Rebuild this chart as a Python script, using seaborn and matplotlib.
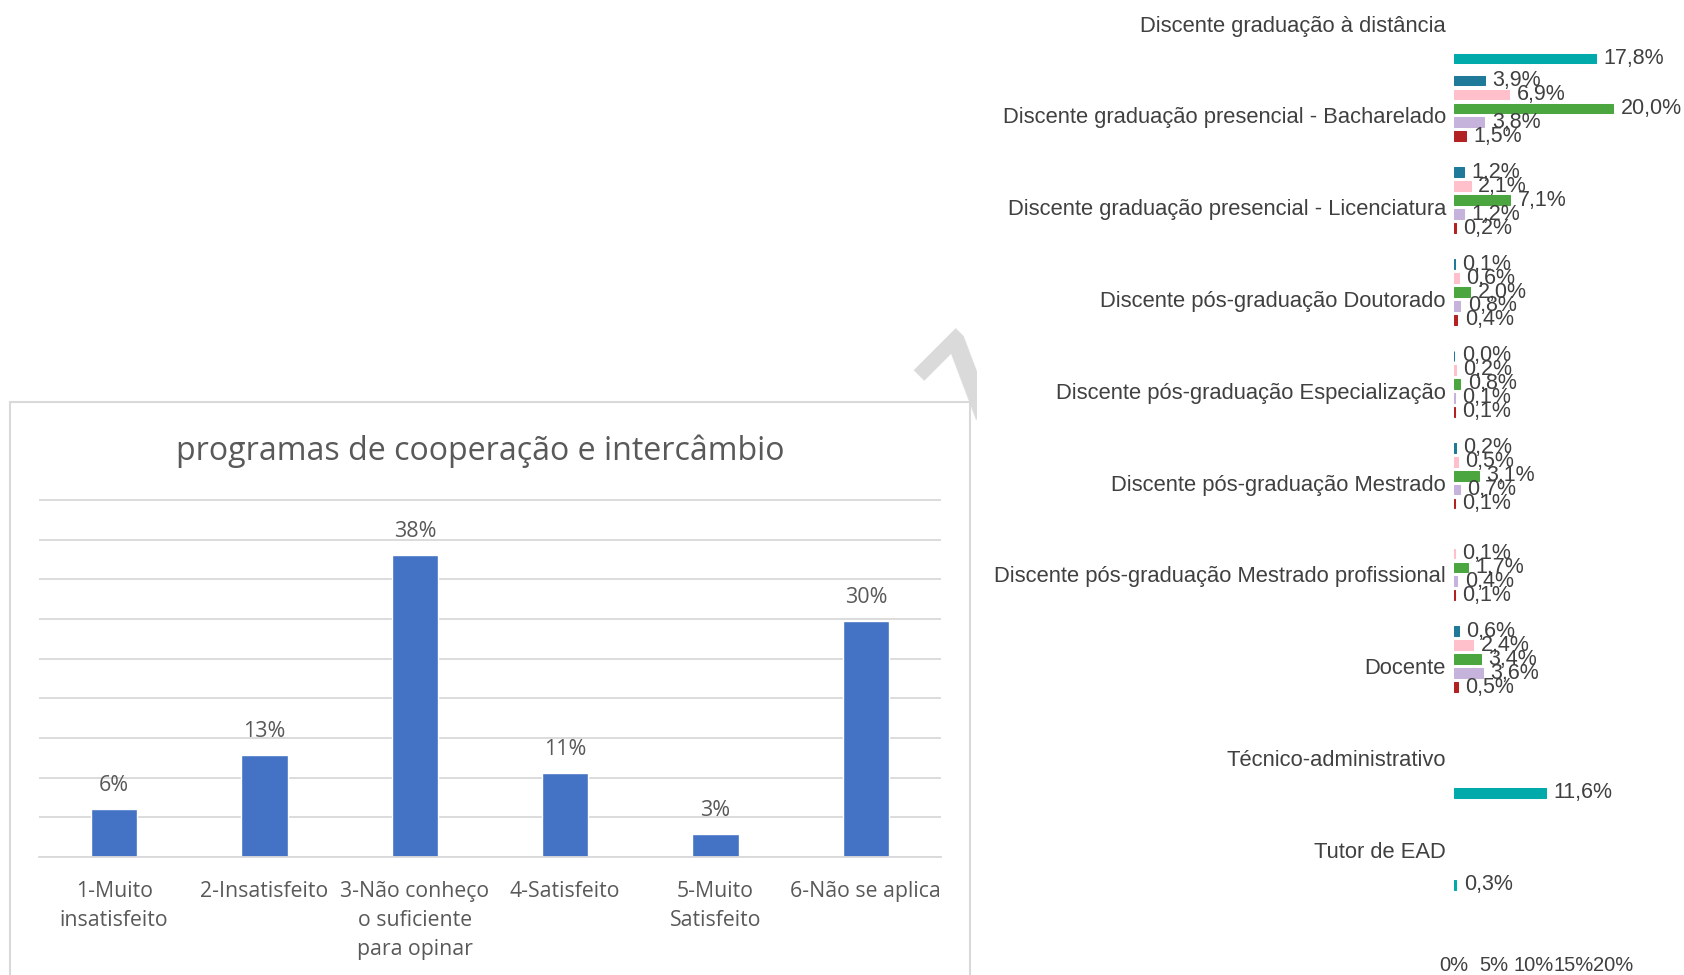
import numpy as np
import pandas as pd
import seaborn as sns
import matplotlib.pyplot as plt
from matplotlib.patches import Rectangle
from matplotlib.transforms import Bbox, TransformedBbox

W, H, DPI = 1684, 975, 100

# gráfico da esquerda - total por resposta
titulo = "programas de cooperação e intercâmbio"
respostas = ["1-Muito insatisfeito", "2-Insatisfeito", "3-Não conheço o suficiente para opinar",
             "4-Satisfeito", "5-Muito Satisfeito", "6-Não se aplica"]
rotulos_x = ["1-Muito\ninsatisfeito", "2-Insatisfeito", "3-Não conheço\no suficiente\npara opinar",
             "4-Satisfeito", "5-Muito\nSatisfeito", "6-Não se aplica"]
total_pct = [6.0, 12.8, 38.1, 10.6, 2.9, 29.7]

# gráfico da direita - resposta por segmento
segmentos = ["Discente graduação à distância",
             "Discente graduação presencial - Bacharelado",
             "Discente graduação presencial - Licenciatura",
             "Discente pós-graduação Doutorado",
             "Discente pós-graduação Especialização",
             "Discente pós-graduação Mestrado",
             "Discente pós-graduação Mestrado profissional",
             "Docente",
             "Técnico-administrativo",
             "Tutor de EAD"]
muito_insatisfeito = [None, 3.9, 1.2, 0.1, 0.0, 0.2, None, 0.6, None, None]
insatisfeito = [None, 6.9, 2.1, 0.6, 0.2, 0.5, 0.1, 2.4, None, None]
nao_conheco = [None, 20.0, 7.1, 2.0, 0.8, 3.1, 1.7, 3.4, None, None]
satisfeito = [None, 3.8, 1.2, 0.8, 0.1, 0.7, 0.4, 3.6, None, None]
muito_satisfeito = [None, 1.5, 0.2, 0.4, 0.1, 0.1, 0.1, 0.5, None, None]
nao_se_aplica = [17.8, None, None, None, None, None, None, None, 11.6, 0.3]
cores = ["#1f7a99", "#ffc0cb", "#4ca63f", "#c5b3db", "#b22222", "#00aaaa"]

series = [muito_insatisfeito, insatisfeito, nao_conheco, satisfeito, muito_satisfeito, nao_se_aplica]
linhas = []
for resp, vals in zip(respostas, series):
    for seg, v in zip(segmentos, vals):
        if v is not None:
            linhas.append({"segmento": seg, "resposta": resp, "pct": v})
df = pd.DataFrame(linhas)
df_total = pd.DataFrame({"resposta": rotulos_x, "pct": total_pct})

sns.set_style("white")
plt.rcParams["font.family"] = ["Liberation Sans", "DejaVu Sans"]

fig = plt.figure(figsize=(W / DPI, H / DPI), dpi=DPI)


def fx(px):
    return px / W


def fy(py):
    return 1 - py / H


# marca d'água cinza atrás dos quadros
wm = fig.text(fx(962), fy(426), "7", rotation=45, rotation_mode="anchor", ha="left", va="baseline",
              fontsize=78, color="#dadada", family="DejaVu Sans", fontweight="bold", zorder=0.1)
wm.set_clip_box(TransformedBbox(Bbox([[0, 0], [977 / W, 1]]), fig.transFigure))
wm.set_clip_on(True)

# quadro do gráfico da esquerda
fig.add_artist(Rectangle((fx(10), -0.01), (970 - 10) / W, fy(402) + 0.01, transform=fig.transFigure,
                         facecolor="white", edgecolor="#d9d9d9", lw=1.5, zorder=0.5))

# ---- esquerda
ax1 = fig.add_axes([fx(39), fy(857), 902 / W, 357 * 45.3 / 45 / H])
ax1.set_zorder(1)
ax1.set_facecolor("none")
sns.barplot(data=df_total, x="resposta", y="pct", color="#4472c4", saturation=1, width=0.31,
            errorbar=None, ax=ax1)
ax1.set_xlim(-0.5, 5.5)
ax1.set_ylim(0, 45.3)
ax1.set_yticks(np.arange(0, 50, 5))
ax1.yaxis.grid(True, color="#d9d9d9", lw=1.3)
ax1.set_axisbelow(True)
ax1.tick_params(axis="y", length=0, labelleft=False)
ax1.set_xticks(np.arange(-0.5, 6, 1), minor=True)
ax1.tick_params(axis="x", which="minor", length=5, color="#d9d9d9", width=1.3)
ax1.tick_params(axis="x", which="major", length=0, pad=17)
for lbl in ax1.get_xticklabels():
    lbl.set_fontfamily("Open Sans")
    lbl.set_fontsize(15.3)
    lbl.set_color("#595959")
    lbl.set_linespacing(1.52)
for s in ["left", "top", "right"]:
    ax1.spines[s].set_visible(False)
ax1.spines["bottom"].set_color("#d9d9d9")
ax1.spines["bottom"].set_linewidth(1.3)
ax1.set_xlabel("")
ax1.set_ylabel("")
ax1.bar_label(ax1.containers[0], labels=[f"{v:.0f}%" for v in total_pct], padding=9.5,
              fontsize=15.5, color="#595959", family="Open Sans")
fig.text(fx(480.5), fy(451), titulo, ha="center", va="center", fontsize=23.1, color="#595959",
         family="Open Sans", zorder=2)

# ---- direita
ax2 = fig.add_axes([fx(1454), fy(946), 230 / W, 946 / H])
ax2.set_zorder(1)
sns.barplot(data=df, x="pct", y="segmento", hue="resposta", order=segmentos, hue_order=respostas,
            palette=cores, orient="h", width=0.915, gap=0.3, dodge=True, saturation=1,
            errorbar=None, legend=False, ax=ax2)
for p in ax2.patches:
    p.set_edgecolor(p.get_facecolor())
    p.set_linewidth(0.75)
for c in ax2.containers:
    ax2.bar_label(c, fmt=lambda v: f"{v:.1f}%".replace(".", ","), padding=5.5, fontsize=15.5,
                  color="#404040")
ax2.set_xlim(0, 230 / 7.95)
ax2.set_ylim(9 + (946 - 849.8) / 91.8, -23.6 / 91.8)
ax2.set_yticks(range(len(segmentos)))
ax2.set_yticklabels(segmentos, fontsize=15.8, color="#404040")
ax2.tick_params(axis="y", length=0, pad=5.8)
ax2.set_xticks([0, 5, 10, 15, 20])
ax2.set_xticklabels([f"{t}%" for t in [0, 5, 10, 15, 20]])
ax2.tick_params(axis="x", length=6, color="#d9d9d9", width=1, pad=1, labelsize=14.5,
                labelcolor="#404040")
for s in ax2.spines.values():
    s.set_visible(False)
ax2.set_xlabel("")
ax2.set_ylabel("")

fig.savefig("out.png", dpi=DPI)
